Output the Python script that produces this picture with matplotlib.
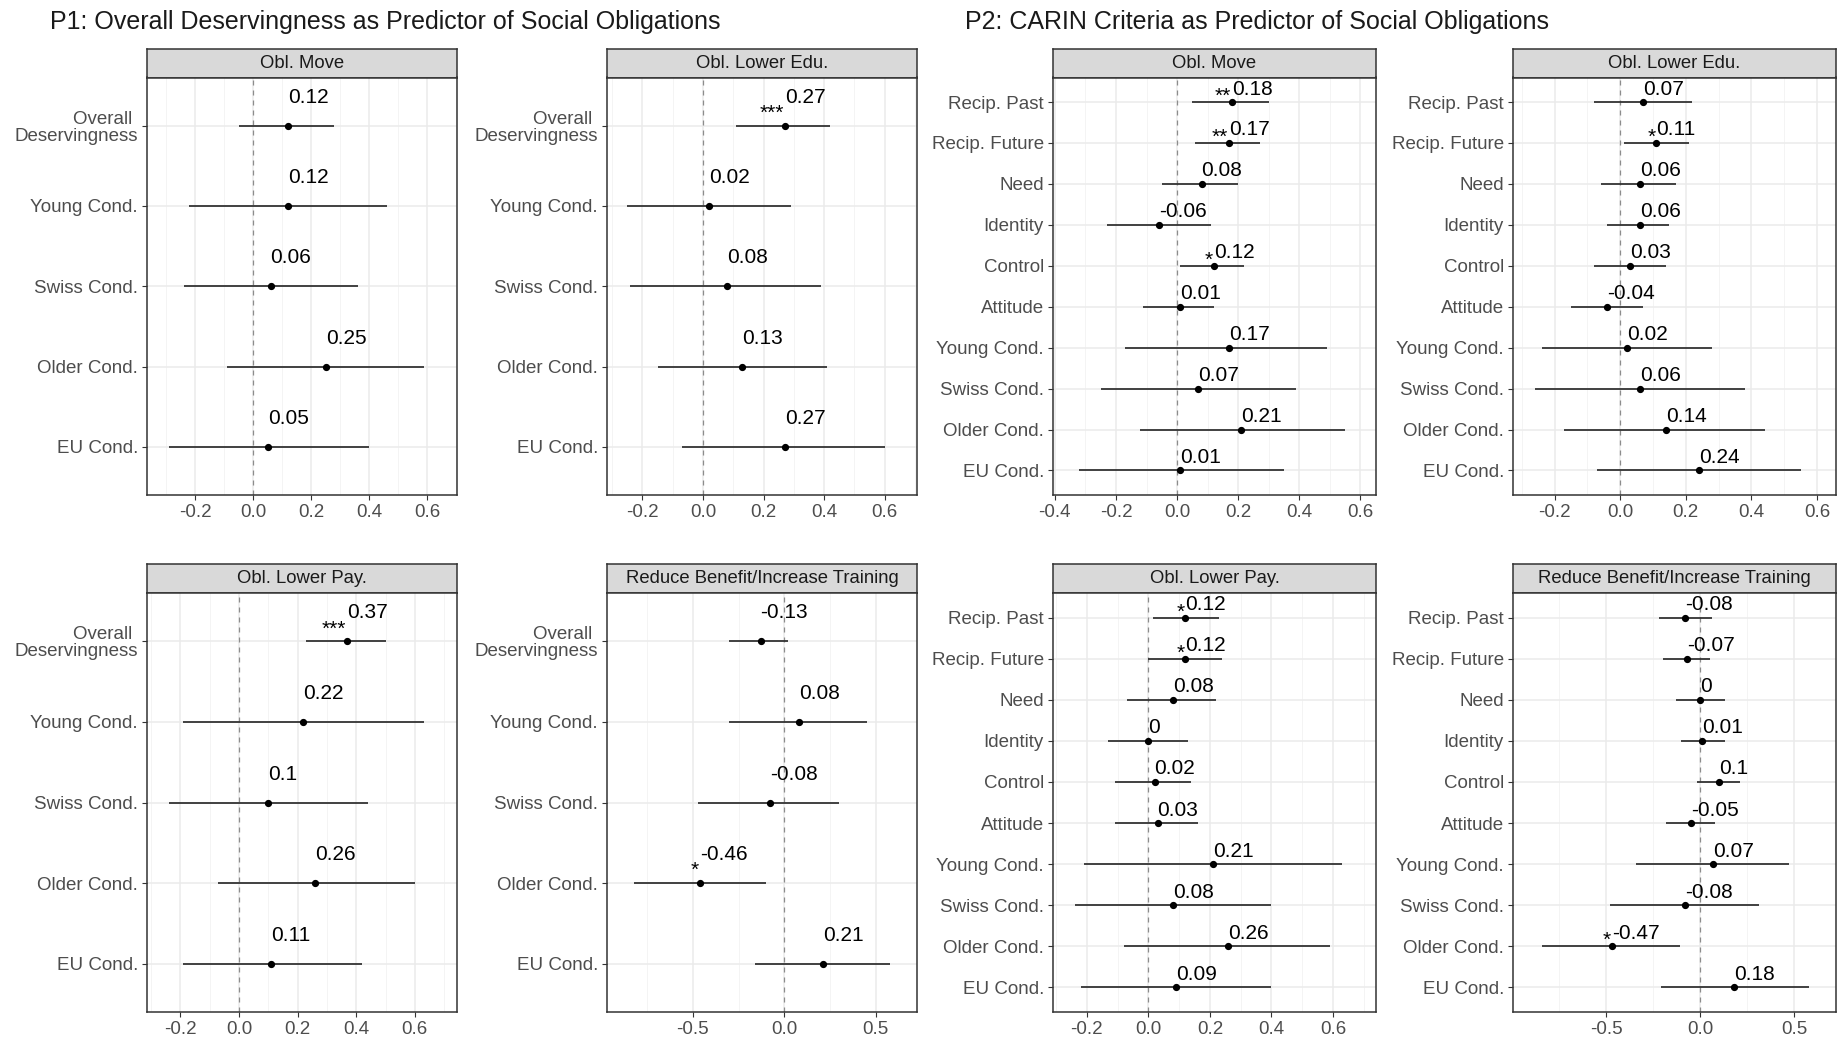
import matplotlib.pyplot as plt
import numpy as np
from matplotlib.ticker import FixedLocator, FormatStrFormatter

plt.rcParams['font.family'] = ['Liberation Sans', 'DejaVu Sans']
plt.rcParams['axes.unicode_minus'] = False

# Predictor names (top to bottom)
p1_terms = ["Overall \nDeservingness", "Young Cond.", "Swiss Cond.", "Older Cond.", "EU Cond."]
p2_terms = ["Recip. Past", "Recip. Future", "Need", "Identity", "Control", "Attitude",
            "Young Cond.", "Swiss Cond.", "Older Cond.", "EU Cond."]
outcomes = ["Obl. Move", "Obl. Lower Edu.", "Obl. Lower Pay.", "Reduce Benefit/Increase Training"]

# P1: overall deservingness models (estimate, CI low, CI high, stars)
p1_move_est = [0.12, 0.12, 0.06, 0.25, 0.05]
p1_move_lo = [-0.05, -0.22, -0.24, -0.09, -0.29]
p1_move_hi = [0.28, 0.46, 0.36, 0.59, 0.40]
p1_move_sig = ["", "", "", "", ""]

p1_edu_est = [0.27, 0.02, 0.08, 0.13, 0.27]
p1_edu_lo = [0.11, -0.25, -0.24, -0.15, -0.07]
p1_edu_hi = [0.42, 0.29, 0.39, 0.41, 0.60]
p1_edu_sig = ["***", "", "", "", ""]

p1_pay_est = [0.37, 0.22, 0.10, 0.26, 0.11]
p1_pay_lo = [0.23, -0.19, -0.24, -0.07, -0.19]
p1_pay_hi = [0.50, 0.63, 0.44, 0.60, 0.42]
p1_pay_sig = ["***", "", "", "", ""]

p1_red_est = [-0.13, 0.08, -0.08, -0.46, 0.21]
p1_red_lo = [-0.30, -0.30, -0.47, -0.82, -0.16]
p1_red_hi = [0.02, 0.45, 0.30, -0.10, 0.58]
p1_red_sig = ["", "", "", "*", ""]

# P2: CARIN criteria models
p2_move_est = [0.18, 0.17, 0.08, -0.06, 0.12, 0.01, 0.17, 0.07, 0.21, 0.01]
p2_move_lo = [0.05, 0.06, -0.05, -0.23, 0.01, -0.11, -0.17, -0.25, -0.12, -0.32]
p2_move_hi = [0.30, 0.27, 0.20, 0.11, 0.22, 0.12, 0.49, 0.39, 0.55, 0.35]
p2_move_sig = ["**", "**", "", "", "*", "", "", "", "", ""]

p2_edu_est = [0.07, 0.11, 0.06, 0.06, 0.03, -0.04, 0.02, 0.06, 0.14, 0.24]
p2_edu_lo = [-0.08, 0.01, -0.06, -0.04, -0.08, -0.15, -0.24, -0.26, -0.17, -0.07]
p2_edu_hi = [0.22, 0.21, 0.17, 0.15, 0.14, 0.07, 0.28, 0.38, 0.44, 0.55]
p2_edu_sig = ["", "*", "", "", "", "", "", "", "", ""]

p2_pay_est = [0.12, 0.12, 0.08, 0, 0.02, 0.03, 0.21, 0.08, 0.26, 0.09]
p2_pay_lo = [0.015, 0.00, -0.07, -0.13, -0.11, -0.11, -0.21, -0.24, -0.08, -0.22]
p2_pay_hi = [0.23, 0.24, 0.22, 0.13, 0.14, 0.16, 0.63, 0.40, 0.59, 0.40]
p2_pay_sig = ["*", "*", "", "", "", "", "", "", "", ""]

p2_red_est = [-0.08, -0.07, 0, 0.01, 0.1, -0.05, 0.07, -0.08, -0.47, 0.18]
p2_red_lo = [-0.22, -0.20, -0.13, -0.10, -0.02, -0.18, -0.34, -0.48, -0.84, -0.21]
p2_red_hi = [0.06, 0.05, 0.13, 0.13, 0.21, 0.08, 0.47, 0.31, -0.11, 0.58]
p2_red_sig = ["", "", "", "", "", "", "", "", "*", ""]

W, H = 1841, 1038
fig = plt.figure(figsize=(W / 100, H / 100), dpi=100)
PX = 0.72  # points per pixel at 100 dpi


def px_axes(x0, y0, x1, y1):
    return fig.add_axes([x0 / W, 1 - y1 / H, (x1 - x0) / W, (y1 - y0) / H])


def draw_panel(box, strip_top, title, terms, est, lo, hi, sig, xlim, step, num_dy, star_dy):
    x0, y0, x1, y1 = box
    strip = px_axes(x0, strip_top, x1, y0)
    strip.set_facecolor('#D9D9D9')
    strip.set_xticks([])
    strip.set_yticks([])
    for s in strip.spines.values():
        s.set_color('#333333')
        s.set_linewidth(1.1)
    strip.text(0.5, 0.5, title, ha='center', va='center', fontsize=13.3,
               color='#1A1A1A', transform=strip.transAxes)

    ax = px_axes(x0, y0, x1, y1)
    n = len(terms)
    pos = np.arange(n)
    ax.set_xlim(*xlim)
    ax.set_ylim(n - 1 + 0.6, -0.6)

    # breaks every `step`, minor lines halfway between
    major = np.round(np.arange(-1.0, 1.0 + 1e-9, step), 6) + 0.0
    major = major[(major >= xlim[0]) & (major <= xlim[1])]
    minor = np.round(np.arange(-1.0 + step / 2, 1.0, step), 6)
    minor = minor[(minor >= xlim[0]) & (minor <= xlim[1])]
    ax.xaxis.set_major_locator(FixedLocator(major))
    ax.xaxis.set_minor_locator(FixedLocator(minor))
    ax.xaxis.set_major_formatter(FormatStrFormatter('%.1f'))
    ax.set_yticks(pos)
    ax.set_yticklabels(terms, linespacing=1.0)

    ax.grid(which='major', color='#EBEBEB', lw=1.1)
    ax.grid(which='minor', axis='x', color='#F2F2F2', lw=0.6)
    ax.set_axisbelow(True)
    ax.tick_params(which='major', length=3.5, width=0.8, color='#333333',
                   labelcolor='#4D4D4D', labelsize=13.5, pad=3)
    ax.tick_params(which='minor', length=0)
    for s in ax.spines.values():
        s.set_color('#333333')
        s.set_linewidth(1.1)

    ax.axvline(0, color='#8C8C8C', lw=0.9, ls=(0, (4, 4)), zorder=1)
    ax.hlines(pos, lo, hi, color='#333333', lw=1.3, zorder=2)
    ax.plot(est, pos, 'o', color='black', ms=4.2, zorder=3)

    for p, v, s in zip(pos, est, sig):
        ax.annotate(f"{round(v, 2):g}", (v, p), xytext=(0, num_dy * PX),
                    textcoords='offset points', ha='left', va='baseline',
                    fontsize=15, color='black')
        if s:
            ax.annotate(s, (v, p), xytext=(-1 * PX, star_dy * PX),
                        textcoords='offset points', ha='right', va='baseline',
                        fontsize=15, color='black')
    return ax


p1_sets = [
    (p1_move_est, p1_move_lo, p1_move_hi, p1_move_sig),
    (p1_edu_est, p1_edu_lo, p1_edu_hi, p1_edu_sig),
    (p1_pay_est, p1_pay_lo, p1_pay_hi, p1_pay_sig),
    (p1_red_est, p1_red_lo, p1_red_hi, p1_red_sig),
]
p2_sets = [
    (p2_move_est, p2_move_lo, p2_move_hi, p2_move_sig),
    (p2_edu_est, p2_edu_lo, p2_edu_hi, p2_edu_sig),
    (p2_pay_est, p2_pay_lo, p2_pay_hi, p2_pay_sig),
    (p2_red_est, p2_red_lo, p2_red_hi, p2_red_sig),
]

# pixel layout: columns and rows of the facet grids
p1_cols = [(147, 457), (607, 917)]
p2_cols = [(1053, 1376), (1513, 1836)]
rows = [(49, 77.5, 495), (564, 593, 1012)]

p1_xlims = [(-0.366, 0.703), (-0.317, 0.707), (-0.314, 0.744), (-0.970, 0.726)]
p2_xlims = [(-0.406, 0.651), (-0.327, 0.658), (-0.310, 0.740), (-0.995, 0.721)]
steps = [0.2, 0.2, 0.2, 0.5]

for i in range(4):
    r, c = divmod(i, 2)
    st, top, bot = rows[r]
    e, l, h, s = p1_sets[i]
    draw_panel((p1_cols[c][0], top, p1_cols[c][1], bot), st, outcomes[i], p1_terms,
               e, l, h, s, p1_xlims[i], steps[i], num_dy=23, star_dy=7)
    e, l, h, s = p2_sets[i]
    draw_panel((p2_cols[c][0], top, p2_cols[c][1], bot), st, outcomes[i], p2_terms,
               e, l, h, s, p2_xlims[i], steps[i], num_dy=7.5, star_dy=0)

fig.text(50 / W, 1 - 29 / H, "P1: Overall Deservingness as Predictor of Social Obligations",
         fontsize=18, color='#1A1A1A', va='baseline')
fig.text(965 / W, 1 - 29 / H, "P2: CARIN Criteria as Predictor of Social Obligations",
         fontsize=18, color='#1A1A1A', va='baseline')

fig.savefig('out.png', dpi=100, facecolor='white')
